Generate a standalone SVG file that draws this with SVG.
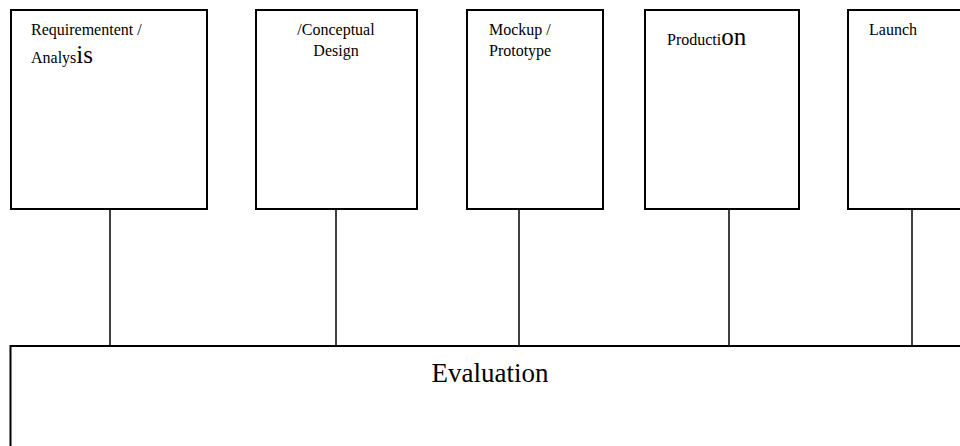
<svg xmlns="http://www.w3.org/2000/svg" width="960" height="446" viewBox="0 0 960 446">
  <style>
    .box { fill: #ffffff; stroke: #000000; stroke-width: 2; }
    .link { stroke: #000000; stroke-width: 1.5; fill: none; }
    .lbl { font-family: "Liberation Serif", "Times New Roman", serif; font-size: 16px; fill: #000000; }
    .big { font-size: 25px; }
    .eval { font-family: "Liberation Serif", "Times New Roman", serif; font-size: 27px; fill: #000000; }
  </style>
  <rect width="960" height="446" fill="#ffffff"/>

  <!-- vertical links from each phase down to the evaluation bar -->
  <g id="connectors">
    <line class="link" x1="110" y1="210" x2="110" y2="346"/>
    <line class="link" x1="336" y1="210" x2="336" y2="346"/>
    <line class="link" x1="519" y1="210" x2="519" y2="346"/>
    <line class="link" x1="729" y1="210" x2="729" y2="346"/>
    <line class="link" x1="912" y1="210" x2="912" y2="346"/>
  </g>

  <g id="requirement">
    <rect class="box" x="11" y="10" width="196" height="199"/>
    <text class="lbl" x="31" y="35">Requirementent /</text>
    <text class="lbl" x="31" y="63">Analys<tspan class="big">is</tspan></text>
  </g>

  <g id="conceptual">
    <rect class="box" x="256" y="10" width="161" height="199"/>
    <text class="lbl" x="336" y="35" text-anchor="middle">/Conceptual</text>
    <text class="lbl" x="336" y="56" text-anchor="middle">Design</text>
  </g>

  <g id="mockup">
    <rect class="box" x="467" y="10" width="136" height="199"/>
    <text class="lbl" x="489" y="35">Mockup /</text>
    <text class="lbl" x="489" y="56">Prototype</text>
  </g>

  <g id="production">
    <rect class="box" x="645" y="10" width="154" height="199"/>
    <text class="lbl" x="667" y="45">Producti<tspan class="big">on</tspan></text>
  </g>

  <g id="launch">
    <rect class="box" x="848" y="10" width="120" height="199"/>
    <text class="lbl" x="869" y="35">Launch</text>
  </g>

  <g id="evaluation">
    <rect class="box" x="10.5" y="346" width="960" height="120"/>
    <text class="eval" x="490" y="382" text-anchor="middle">Evaluation</text>
  </g>
</svg>
